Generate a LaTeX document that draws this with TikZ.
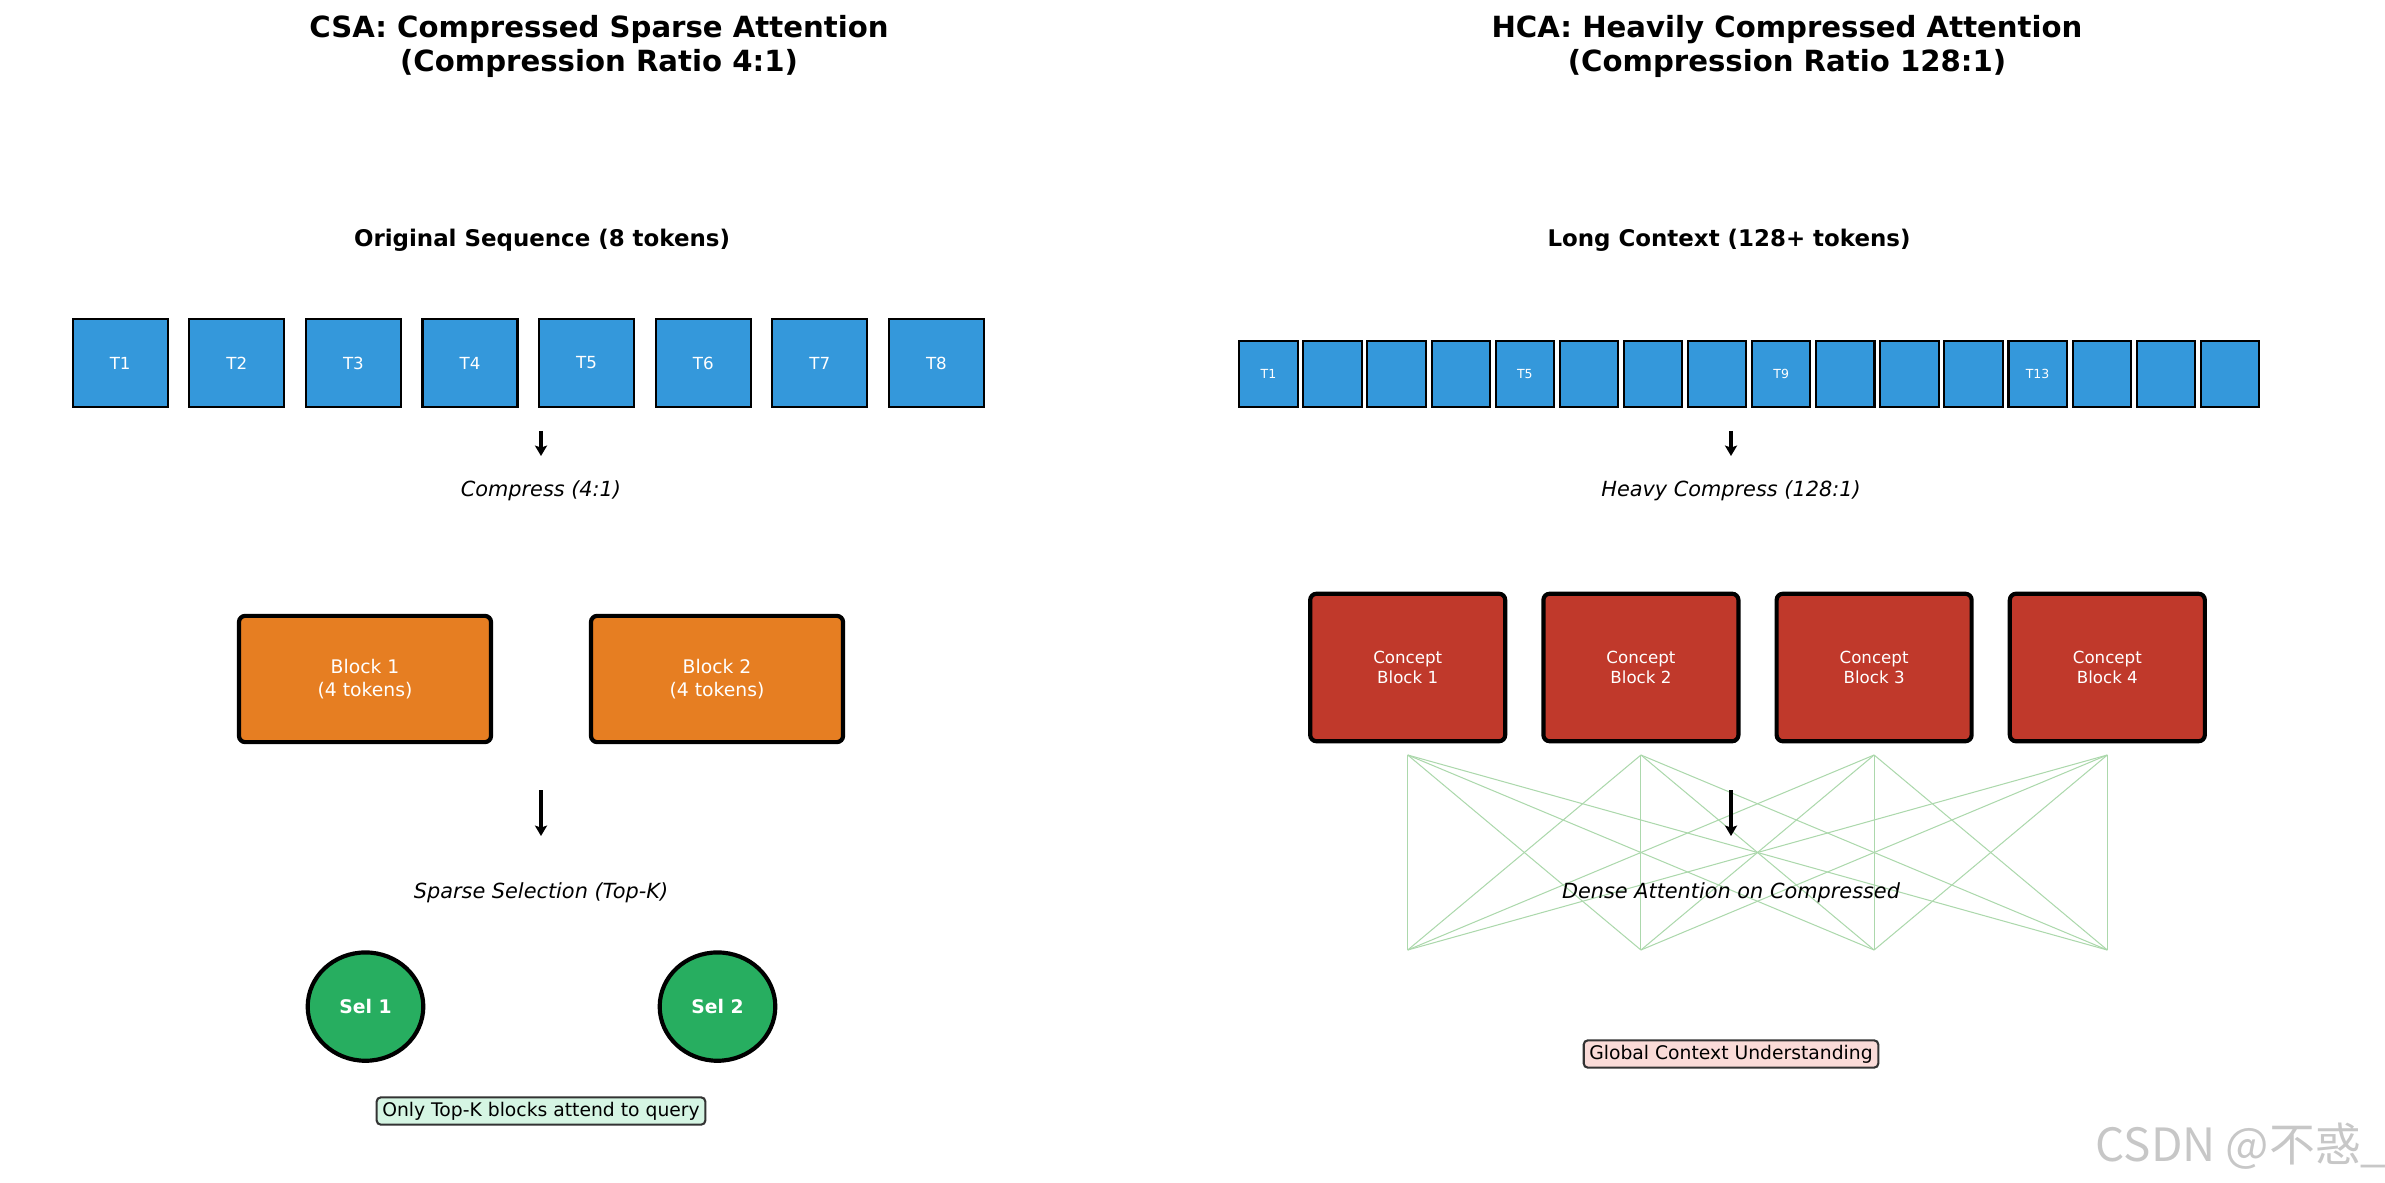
\documentclass[tikz,border=0pt]{standalone}
\usepackage{fontspec}
\setmainfont{DejaVu Sans}
\newfontfamily\cjk{Noto Sans CJK SC}
\usepackage{tikz}
\usetikzlibrary{arrows.meta,positioning,shapes.geometric}
\definecolor{tokblue}{HTML}{3498DB}
\definecolor{blkorange}{HTML}{E67E22}
\definecolor{blkred}{HTML}{C0392B}
\definecolor{selgreen}{HTML}{27AE60}
\definecolor{notegreen}{HTML}{D5F5E3}
\definecolor{notepink}{HTML}{FADBD8}
\definecolor{attngreen}{RGB}{172,216,172}

\begin{document}
\begin{tikzpicture}[x=0.48pt,y=-0.48pt,
  title/.style={font=\fontsize{14}{16.3}\selectfont\bfseries,align=center},
  head/.style={font=\fontsize{11}{13}\selectfont\bfseries},
  stepnote/.style={font=\fontsize{10}{12}\selectfont\itshape},
  token/.style={draw,fill=tokblue,text=white,line width=1pt,inner sep=0pt,
    minimum width=45.6pt,minimum height=42.2pt,font=\fontsize{8}{10}\selectfont},
  smalltoken/.style={token,minimum width=28pt,minimum height=31.7pt,
    font=\fontsize{6}{7}\selectfont},
  block/.style={draw,fill=blkorange,text=white,line width=2pt,rounded corners=3pt,
    minimum width=121pt,minimum height=60.6pt,align=center,
    font=\fontsize{9}{11}\selectfont},
  concept/.style={block,fill=blkred,minimum width=93.6pt,minimum height=70.8pt,
    font=\fontsize{8}{9.6}\selectfont},
  sel/.style={ellipse,draw,fill=selgreen,text=white,line width=2pt,inner sep=0pt,
    minimum width=55.5pt,minimum height=52pt,font=\fontsize{9}{11}\selectfont\bfseries},
  note/.style={draw=black!80,line width=1pt,rounded corners=2pt,inner xsep=2.7pt,
    inner ysep=2.2pt,font=\fontsize{9}{11}\selectfont},
  flow/.style={-{Stealth[length=5pt,width=5.8pt,inset=1pt]},line width=2pt},
  attn/.style={attngreen,line width=0.5pt}]

  \useasboundingbox (0,0) rectangle (2385,1183);

  % CSA side
  \node[title] (csatitle) at (599,46) {CSA: Compressed Sparse Attention\\(Compression Ratio 4:1)};
  \node[head] (seqhead) at (542,240) {Original Sequence (8 tokens)};
  \foreach \i in {1,...,8} {
    \node[token] (t\i) at ({120.2+(\i-1)*116.6},363) {T\i};
  }
  \coordinate (c1s) at (541,431);
  \coordinate (c1e) at (541,456);
  \draw[flow] (c1s) -- (c1e);
  \node[stepnote] (compress) at (541,491) {Compress (4:1)};

  \node[block] (b1) at (365,679) {Block 1\\(4 tokens)};
  \node[block] (b2) at (717,679) {Block 2\\(4 tokens)};
  \coordinate (c2s) at (541,790);
  \coordinate (c2e) at (541,836);
  \draw[flow] (c2s) -- (c2e);
  \node[stepnote] (sparse) at (541,893) {Sparse Selection (Top-K)};

  \node[sel] (s1) at (365.5,1006.6) {Sel 1};
  \node[sel] (s2) at (717.5,1006.6) {Sel 2};
  \node[note,fill=notegreen] (topk) at (541,1111) {Only Top-K blocks attend to query};

  % HCA side
  \node[title] (hcatitle) at (1787,46) {HCA: Heavily Compressed Attention\\(Compression Ratio 128:1)};
  \node[head] (longhead) at (1729,240) {Long Context (128+ tokens)};
  \foreach \i/\lab in {1/T1,2/,3/,4/,5/T5,6/,7/,8/,9/T9,10/,11/,12/,13/T13,14/,15/,16/} {
    \node[smalltoken] (u\i) at ({1268.4+(\i-1)*64.1},374.3) {\lab};
  }
  \coordinate (h1s) at (1731,431);
  \coordinate (h1e) at (1731,456);
  \draw[flow] (h1s) -- (h1e);
  \node[stepnote] (heavy) at (1731,491) {Heavy Compress (128:1)};

  \foreach \i in {1,...,4} {
    \node[concept] (k\i) at ({1407.7+(\i-1)*233.2},667.5) {Concept\\Block \i};
    \coordinate (top\i) at ({1407.7+(\i-1)*233.2},755);
    \coordinate (bot\i) at ({1407.7+(\i-1)*233.2},950);
  }

  % Dense links
  \foreach \i in {1,...,4} {
    \foreach \j in {1,...,4} {
      \draw[attn] (top\i) -- (bot\j);
    }
  }
  \coordinate (h2s) at (1731,790);
  \coordinate (h2e) at (1731,836);
  \draw[flow] (h2s) -- (h2e);
  \node[stepnote] (dense) at (1731,893) {Dense Attention on Compressed};
  \node[note,fill=notepink] (global) at (1731,1054) {Global Context Understanding};

  \node[anchor=east,inner sep=0pt,text=black!22,font=\cjk\fontsize{22}{25}\selectfont] (mark) at (2387,1146) {CSDN @不惑\_};
\end{tikzpicture}
\end{document}
